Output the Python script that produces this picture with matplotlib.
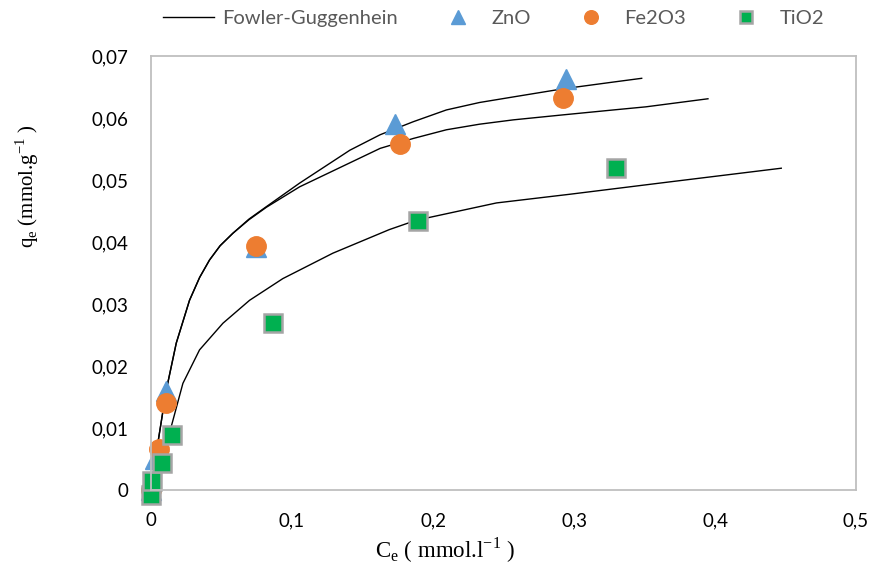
import matplotlib.pyplot as plt
import numpy as np

# points (Ce in mmol/l, qe in mmol/g)
zno_ce = [0.0, 0.003, 0.0108, 0.0742, 0.173, 0.294]
zno_qe = [0.0, 0.005, 0.0159, 0.0392, 0.0591, 0.0663]

fe_ce = [0.0, 0.0055, 0.0108, 0.0742, 0.1766, 0.2923]
fe_qe = [0.0, 0.0066, 0.014, 0.0394, 0.0558, 0.0632]

ti_ce = [0.0, 0.0006, 0.0079, 0.015, 0.0865, 0.189, 0.3295]
ti_qe = [-0.0008, 0.0015, 0.0043, 0.0089, 0.0269, 0.0434, 0.0519]

# Fowler-Guggenheim fitted curves
fg_zno_ce = [0.0, 0.0048, 0.0108, 0.0179, 0.0273, 0.0345, 0.0415, 0.049, 0.058, 0.0695, 0.0818,
             0.1054, 0.141, 0.1625, 0.186, 0.2095, 0.233, 0.257, 0.292, 0.328, 0.348]
fg_zno_qe = [0.0, 0.0075, 0.0161, 0.0237, 0.0306, 0.0343, 0.0371, 0.0394, 0.0414, 0.0437, 0.0457,
             0.0495, 0.0548, 0.0573, 0.0594, 0.0613, 0.0625, 0.0634, 0.0647, 0.0658, 0.0664]

fg_fe_ce = [0.0, 0.0048, 0.0108, 0.0179, 0.0273, 0.0345, 0.0415, 0.049, 0.058, 0.0695, 0.0818,
            0.1054, 0.1625, 0.186, 0.2095, 0.233, 0.257, 0.292, 0.328, 0.351, 0.395]
fg_fe_qe = [0.0, 0.0075, 0.0161, 0.0237, 0.0306, 0.0343, 0.0371, 0.0394, 0.0414, 0.0436, 0.0456,
            0.0489, 0.0551, 0.0567, 0.0581, 0.059, 0.0597, 0.0605, 0.0613, 0.0618, 0.0631]

fg_ti_ce = [0.009, 0.0143, 0.0226, 0.0344, 0.051, 0.0699, 0.0935, 0.129, 0.169, 0.188,
            0.245, 0.297, 0.368, 0.447]
fg_ti_qe = [0.0055, 0.0102, 0.0172, 0.0226, 0.0269, 0.0306, 0.0341, 0.0382, 0.042, 0.0435,
            0.0463, 0.0477, 0.0497, 0.0519]

fig = plt.figure(figsize=(8.74, 5.69), dpi=100)
ax = fig.add_axes([0.1728, 0.1388, 0.8066, 0.7628])

ax.plot(fg_zno_ce, fg_zno_qe, color='black', lw=1.0, label='Fowler-Guggenhein')
ax.plot(fg_fe_ce, fg_fe_qe, color='black', lw=1.0)
ax.plot(fg_ti_ce, fg_ti_qe, color='black', lw=1.0)

ax.plot(zno_ce, zno_qe, ls='none', marker='^', ms=15, color='#5B9BD5', label='ZnO', clip_on=False)
ax.plot(fe_ce, fe_qe, ls='none', marker='o', ms=14, color='#ED7D31', label='Fe2O3', clip_on=False)
ax.plot(ti_ce, ti_qe, ls='none', marker='s', ms=13, color='#00B050',
        mec='#A5A5A5', mew=1.8, label='TiO2', clip_on=False)

ax.set_xlim(0, 0.5)
ax.set_ylim(0, 0.07)
ax.set_xticks(np.arange(0, 0.51, 0.1))
ax.set_yticks(np.arange(0, 0.071, 0.01))
ax.set_xticklabels(['0', '0,1', '0,2', '0,3', '0,4', '0,5'], fontsize=13.5, family='Lato')
ax.set_yticklabels(['0', '0,01', '0,02', '0,03', '0,04', '0,05', '0,06', '0,07'], fontsize=13.5, family='Lato')
ax.tick_params(axis='y', length=0, pad=16)
ax.tick_params(axis='x', length=0, pad=16)

for s in ax.spines.values():
    s.set_color('#BFBFBF')
    s.set_linewidth(1.3)

ax.set_xlabel(r'C$_\mathregular{e}$ ( mmol.l$^\mathregular{-1}$ )', fontsize=16.5,
              family='Liberation Serif', va='center')
ax.set_ylabel(r'q$_\mathregular{e}$ (mmol.g$^\mathregular{-1}$ )', fontsize=15,
              family='Liberation Serif', va='center')
ax.xaxis.set_label_coords(0.417, -0.138)
ax.yaxis.set_label_coords(-0.176, 0.70)

leg = fig.legend(loc='center', bbox_to_anchor=(0.565, 0.968), ncol=4, frameon=False,
                 handlelength=2.5, handletextpad=0.4, columnspacing=1.75, markerscale=0.7,
                 prop={'family': 'Lato', 'size': 14.5})
for t in leg.get_texts():
    t.set_color('#595959')

fig.savefig('out.png', dpi=100)
